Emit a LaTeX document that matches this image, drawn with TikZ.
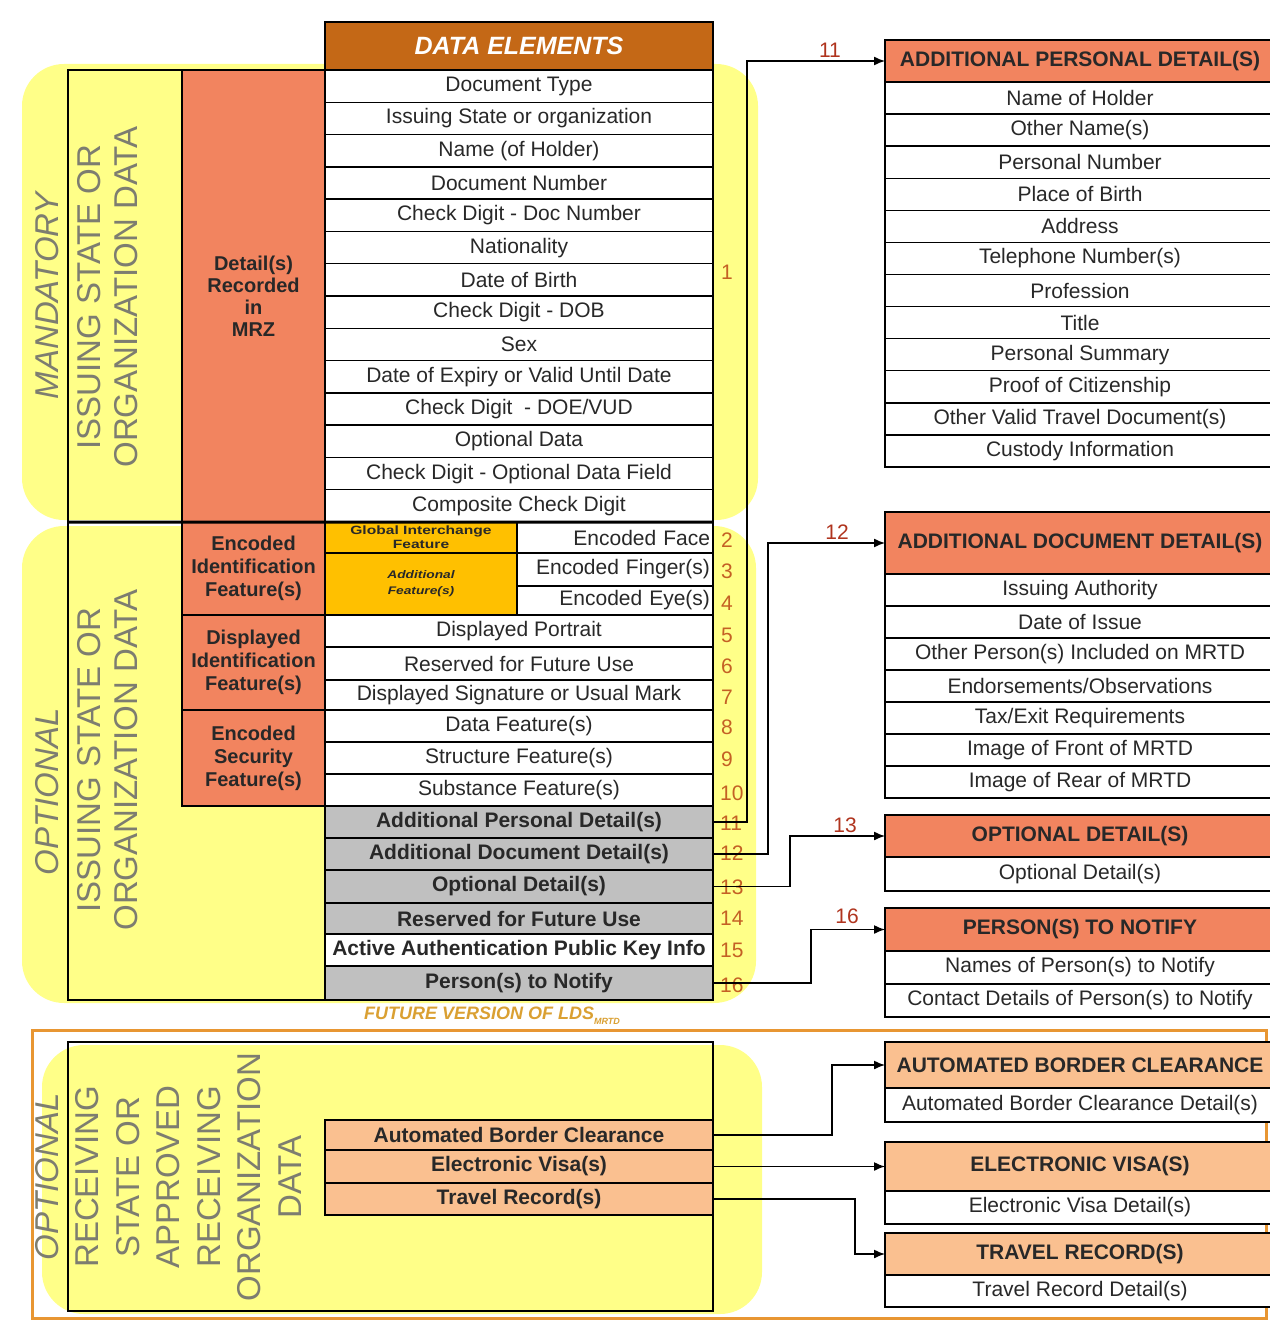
\documentclass[tikz,border=0pt]{standalone}
\usepackage{fontspec}
\usepackage{graphicx}
\setmainfont{Liberation Sans}
\usetikzlibrary{arrows.meta}
\definecolor{yel}{RGB}{255,255,136}
\definecolor{salmon}{RGB}{242,132,95}
\definecolor{hdrbrown}{RGB}{196,104,22}
\definecolor{gold}{RGB}{255,192,0}
\definecolor{peach}{RGB}{250,192,144}
\definecolor{grayrow}{RGB}{192,192,192}
\definecolor{numcol}{RGB}{196,96,36}
\definecolor{lblcol}{RGB}{176,52,30}
\definecolor{vtext}{RGB}{125,125,112}
\definecolor{framecol}{RGB}{232,150,50}
\definecolor{futcol}{RGB}{218,160,50}
\definecolor{txtc}{RGB}{40,40,40}
\newcommand\mkcell[7]{\node[#6, anchor=north west, minimum width={(#4-#2)*1pt}, minimum height={(#5-#3)*1pt}] (#1) at (#2,#3) {#7};}
\begin{document}
\begin{tikzpicture}[x=1pt,y=-1pt,
  base/.style={draw=black, line width=1.4pt, inner sep=0pt, outer sep=0pt, text=txtc, align=center, font=\fontsize{21}{23}\selectfont},
  wcell/.style={base, fill=white},
  bcell/.style={base, fill=white, font=\fontsize{21}{23}\selectfont\bfseries},
  gcell/.style={base, fill=grayrow, font=\fontsize{21}{23}\selectfont\bfseries},
  ecell/.style={base, fill=white, text width=190pt, align=right},
  scell/.style={base, fill=salmon, font=\fontsize{20}{22}\selectfont\bfseries},
  hcell/.style={base, fill=salmon, font=\fontsize{21}{23}\selectfont\bfseries},
  pcell/.style={base, fill=peach, font=\fontsize{21}{23}\selectfont\bfseries},
  goldcell/.style={base, fill=gold},
  num/.style={text=numcol, font=\fontsize{21}{23}\selectfont, inner sep=0pt, anchor=west},
  lbl/.style={text=lblcol, font=\fontsize{21}{23}\selectfont, inner sep=0pt},
  conn/.style={draw=black, line width=1.4pt, -{Latex[length=11pt,width=9pt]}},
  vtxt/.style={rotate=90, text=vtext, align=center, inner sep=0pt, font=\fontsize{33}{37}\selectfont}
]
\useasboundingbox (0,0) rectangle (1269,1321);
\fill[white] (0,0) rectangle (1269,1321);
% yellow backgrounds
\fill[yel, rounded corners=42] (22,64) rectangle (758,520);
\fill[yel, rounded corners=42] (22,526) rectangle (756,1003);
\fill[yel, rounded corners=42] (42,1045) rectangle (762,1314);
% frame of future version
\draw[framecol, line width=3pt] (32,1030) -- (1266,1030) -- (1266,1318) -- (32,1318) -- cycle;

% header
\mkcell{hdr}{325}{22}{713}{70}{base, fill=hdrbrown, text=white, font=\fontsize{25}{27}\selectfont\bfseries\itshape}{DATA ELEMENTS}

% mandatory section
\mkcell{mcol}{68}{70}{182}{522}{base}{}
\mkcell{mrz}{182}{70}{325}{522}{scell}{Detail(s)\\Recorded\\in\\MRZ}
\foreach \lab [count=\i from 0] in {Document Type, Issuing State or organization, Name (of Holder), Document Number, Check Digit - Doc Number, Nationality, Date of Birth, Check Digit - DOB, Sex, Date of Expiry or Valid Until Date, Check Digit \ - DOE/VUD, Optional Data, Check Digit - Optional Data Field, Composite Check Digit}{
  \pgfmathsetmacro\ya{70+\i*32.2857}
  \pgfmathsetmacro\yb{\ya+32.2857}
  \mkcell{m\i}{325}{\ya}{713}{\yb}{wcell}{\lab}
}

% optional section
\mkcell{ocol}{68}{522}{325}{1000}{base}{}
\mkcell{eif}{182}{522}{325}{615}{scell, font=\fontsize{20}{23}\selectfont\bfseries}{Encoded\\Identification\\Feature(s)}
\mkcell{dif}{182}{615}{325}{710}{scell, font=\fontsize{20}{23}\selectfont\bfseries}{Displayed\\Identification\\Feature(s)}
\mkcell{esf}{182}{710}{325}{806}{scell, font=\fontsize{20}{23}\selectfont\bfseries}{Encoded\\Security\\Feature(s)}
\mkcell{gif}{325}{522}{517}{553}{goldcell, font=\fontsize{12}{14}\selectfont\bfseries}{\scalebox{1.3}[1]{Global Interchange}\\\scalebox{1.3}[1]{Feature}}
\mkcell{adf}{325}{553}{517}{615}{goldcell, font=\fontsize{11}{16}\selectfont\bfseries\itshape}{\scalebox{1.25}[1]{Additional}\\\scalebox{1.25}[1]{Feature(s)}}
\mkcell{o2}{517}{522}{713}{553}{ecell}{Encoded Face}
\mkcell{o3}{517}{553}{713}{586}{ecell}{Encoded Finger(s)}
\mkcell{o4}{517}{586}{713}{615}{ecell}{Encoded Eye(s)}
\mkcell{o5}{325}{615}{713}{647}{wcell}{Displayed Portrait}
\mkcell{o6}{325}{647}{713}{680}{wcell}{Reserved for Future Use}
\mkcell{o7}{325}{680}{713}{710}{wcell}{Displayed Signature or Usual Mark}
\mkcell{o8}{325}{710}{713}{742}{wcell}{Data Feature(s)}
\mkcell{o9}{325}{742}{713}{774}{wcell}{Structure Feature(s)}
\mkcell{o10}{325}{774}{713}{806}{wcell}{Substance Feature(s)}
\mkcell{o11}{325}{806}{713}{838}{gcell}{Additional Personal Detail(s)}
\mkcell{o12}{325}{838}{713}{870}{gcell}{Additional Document Detail(s)}
\mkcell{o13}{325}{870}{713}{903}{gcell}{Optional Detail(s)}
\mkcell{o14}{325}{903}{713}{934}{gcell}{Reserved for Future Use}
\mkcell{o15}{325}{934}{713}{966}{bcell}{Active Authentication Public Key Info}
\mkcell{o16}{325}{966}{713}{1000}{gcell}{Person(s) to Notify}
\draw[line width=3pt] (mcol.south west) -- (m13.south east);

% vertical texts
\node[vtxt] (vmand) at (47,296) {\itshape MANDATORY};
\node[vtxt] (vmandb) at (108,297) {ISSUING STATE OR\\ORGANIZATION DATA};
\node[vtxt] (vopt) at (47,792) {\itshape OPTIONAL};
\node[vtxt] (voptb) at (108,760) {ISSUING STATE OR\\ORGANIZATION DATA};

% future version label
\node[text=futcol, inner sep=0pt, font=\fontsize{18}{20}\selectfont\bfseries\itshape] (fut) at (492,1016) {FUTURE VERSION OF LDS\raisebox{-5pt}{\fontsize{9}{9}\selectfont MRTD}};

% receiving section
\mkcell{rbox}{68}{1042}{713}{1311}{base}{}
\node[vtxt, font=\fontsize{33}{40.5}\selectfont] (vrec) at (168,1177) {\itshape OPTIONAL\\RECEIVING\\STATE OR\\APPROVED\\RECEIVING\\ORGANIZATION\\DATA};
\mkcell{babc}{325}{1120}{713}{1150}{pcell}{Automated Border Clearance}
\mkcell{bev}{325}{1150}{713}{1183}{pcell}{Electronic Visa(s)}
\mkcell{btr}{325}{1183}{713}{1215}{pcell}{Travel Record(s)}

% right boxes
\mkcell{apd}{885}{40}{1275}{82}{hcell}{ADDITIONAL PERSONAL DETAIL(S)}
\foreach \lab [count=\i from 0] in {Name of Holder, Other Name(s), Personal Number, Place of Birth, Address, Telephone Number(s), Profession, Title, Personal Summary, Proof of Citizenship, Other Valid Travel Document(s), Custody Information}{
  \pgfmathsetmacro\ya{82+\i*32.08}
  \pgfmathsetmacro\yb{\ya+32.08}
  \mkcell{p\i}{885}{\ya}{1275}{\yb}{wcell}{\lab}
}
\mkcell{add}{885}{512}{1275}{574}{hcell}{ADDITIONAL DOCUMENT DETAIL(S)}
\foreach \lab [count=\i from 0] in {Issuing Authority, Date of Issue, Other Person(s) Included on MRTD, Endorsements/Observations, Tax/Exit Requirements, Image of Front of MRTD, Image of Rear of MRTD}{
  \pgfmathsetmacro\ya{574+\i*32}
  \pgfmathsetmacro\yb{\ya+32}
  \mkcell{d\i}{885}{\ya}{1275}{\yb}{wcell}{\lab}
}
\mkcell{optd}{885}{815}{1275}{857}{hcell}{OPTIONAL DETAIL(S)}
\mkcell{optd1}{885}{857}{1275}{891}{wcell}{Optional Detail(s)}
\mkcell{pnot}{885}{908}{1275}{951}{hcell}{PERSON(S) TO NOTIFY}
\mkcell{pnot1}{885}{951}{1275}{984}{wcell}{Names of Person(s) to Notify}
\mkcell{pnot2}{885}{984}{1275}{1017}{wcell}{Contact Details of Person(s) to Notify}
\mkcell{rabc}{885}{1042}{1275}{1088}{pcell}{AUTOMATED BORDER CLEARANCE}
\mkcell{rabc1}{885}{1088}{1275}{1122}{wcell}{Automated Border Clearance Detail(s)}
\mkcell{rev}{885}{1142}{1275}{1191}{pcell}{ELECTRONIC VISA(S)}
\mkcell{rev1}{885}{1191}{1275}{1224}{wcell}{Electronic Visa Detail(s)}
\mkcell{rtr}{885}{1233}{1275}{1275}{pcell}{TRAVEL RECORD(S)}
\mkcell{rtr1}{885}{1275}{1275}{1307}{wcell}{Travel Record Detail(s)}

% numbers column
\node[num] (n1) at (721,272) {1};
\node[num] (n2) at (721,540) {2};
\node[num] (n3) at (721,571) {3};
\node[num] (n4) at (721,603) {4};
\node[num] (n5) at (721,635) {5};
\node[num] (n6) at (721,666) {6};
\node[num] (n7) at (721,697) {7};
\node[num] (n8) at (721,727) {8};
\node[num] (n9) at (721,759) {9};
\node[num] (n10) at (720,793) {10};
\node[num] (n11) at (720,823) {11};
\node[num] (n12) at (720,853) {12};
\node[num] (n13) at (720,887) {13};
\node[num] (n14) at (720,918) {14};
\node[num] (n15) at (720,950) {15};
\node[num] (n16) at (720,985) {16};

% connectors
\draw[conn] (o11.east) -- ++(34,0) |- (apd.west);
\draw[conn] (o12.east) -- ++(55,0) |- (add.west);
\draw[conn] (o13.east) -- ++(77,0) |- (optd.west);
\draw[conn] (o16.east) -- ++(98,0) |- (pnot.west);
\draw[conn] (babc.east) -- ++(119,0) |- (rabc.west);
\draw[conn] (bev.east) -- (rev.west);
\draw[conn] (btr.east) -- ++(142,0) |- (rtr.west);
\node[lbl] (l11) at (830,50) {11};
\node[lbl] (l12) at (837,532) {12};
\node[lbl] (l13) at (845,825) {13};
\node[lbl] (l16) at (847,916) {16};
\end{tikzpicture}
\end{document}
